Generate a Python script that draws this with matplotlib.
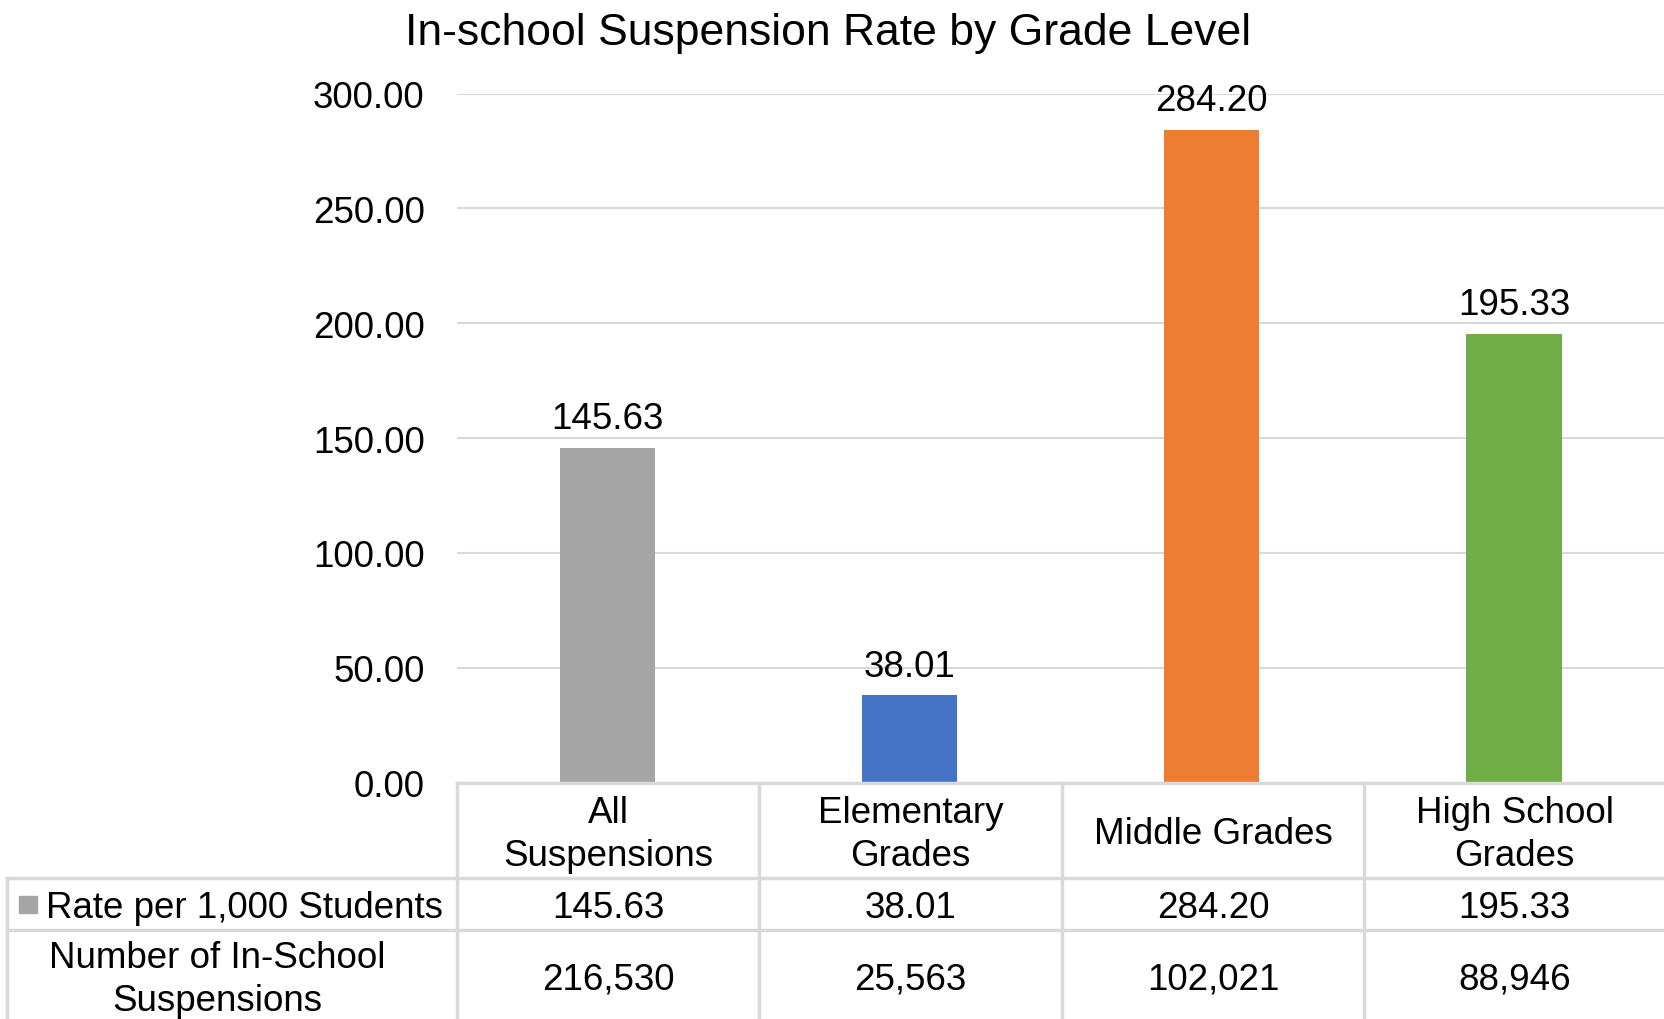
import numpy as np
import matplotlib.pyplot as plt
from matplotlib.lines import Line2D
from matplotlib.patches import Rectangle

plt.rcParams['font.family'] = ['Liberation Sans', 'DejaVu Sans']

# --- data ---
categories = ['All\nSuspensions', 'Elementary\nGrades', 'Middle Grades', 'High School\nGrades']
rates = [145.63, 38.01, 284.20, 195.33]
counts = [216530, 25563, 102021, 88946]
colors = ['#A5A5A5', '#4472C4', '#ED7D31', '#70AD47']
yticks = [0, 50, 100, 150, 200, 250, 300]

W, H = 1665, 1020
FS = 26.5
fig = plt.figure(figsize=(W / 100, H / 100), dpi=100)


def fx(x):
    return x / W


def fy(y):
    return 1 - y / H


# plot area in pixel coords
left, right, top, bottom = 456.6, 1665, 94.5, 783.7
ax = fig.add_axes([fx(left), fy(bottom), fx(right) - fx(left), fy(top) - fy(bottom)])

x = np.arange(len(categories))
ax.bar(x, rates, width=0.315, color=colors, zorder=3)
for xi, v in zip(x, rates):
    ax.annotate(f"{v:.2f}", (xi, v), xytext=(0, 21), textcoords='offset points',
                ha='center', va='center', fontsize=FS)

ax.set_xlim(-0.5, len(categories) - 0.5)
ax.set_ylim(0, 300)
ax.set_yticks(yticks)
ax.set_yticklabels([f"{t:.2f}" for t in yticks], fontsize=FS)
ax.tick_params(axis='y', length=0, pad=23)
ax.set_xticks([])
ax.grid(axis='y', color='#D9D9D9', linewidth=1.5, zorder=0)
for s in ax.spines.values():
    s.set_visible(False)

fig.text(0.4975, fy(34), 'In-school Suspension Rate by Grade Level',
         ha='center', va='center', fontsize=32)

# --- data table ---
col_edges = [456.6, 759.3, 1061.9, 1364.5, 1665]
row_y = [783.7, 879, 931, 1020]
tbl_left = 7.4
lc = '#D9D9D9'


def hline(y, x0, x1):
    fig.add_artist(Line2D([fx(x0), fx(x1)], [fy(y), fy(y)], color=lc, lw=2.5))


def vline(x0, y0, y1):
    fig.add_artist(Line2D([fx(x0), fx(x0)], [fy(y0), fy(y1)], color=lc, lw=2.5))


hline(row_y[0], col_edges[0], col_edges[-1])
hline(row_y[1], tbl_left, col_edges[-1])
hline(row_y[2], tbl_left, col_edges[-1])
for cx in col_edges[:-1]:
    vline(cx, row_y[0], row_y[3])
vline(tbl_left, row_y[1], row_y[3])

centers = [(a + b) / 2 for a, b in zip(col_edges[:-1], col_edges[1:])]
for cx, cat, r, n in zip(centers, categories, rates, counts):
    fig.text(fx(cx), fy(835), cat, ha='center', va='center', fontsize=FS, linespacing=1.28)
    fig.text(fx(cx), fy(909), f"{r:.2f}", ha='center', va='center', fontsize=FS)
    fig.text(fx(cx), fy(980), f"{n:,}", ha='center', va='center', fontsize=FS)

fig.add_artist(Rectangle((fx(19), fy(914)), fx(18), fy(897) - fy(914),
                         color=colors[0], transform=fig.transFigure))
fig.text(fx(46), fy(909), 'Rate per 1,000 Students', ha='left', va='center', fontsize=FS)
fig.text(fx(217), fy(980), 'Number of In-School\nSuspensions', ha='center', va='center',
         fontsize=FS, linespacing=1.28)

fig.savefig('out.png', dpi=100)
